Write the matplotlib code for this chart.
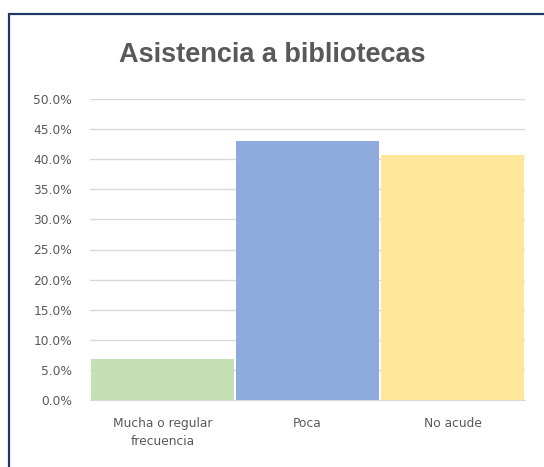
import matplotlib
matplotlib.use("Agg")
import matplotlib.pyplot as plt
from matplotlib.patches import Rectangle
from matplotlib.ticker import FuncFormatter, MultipleLocator

categories = ["Mucha o regular\nfrecuencia", "Poca", "No acude"]
values = [6.8, 43.1, 40.7]
colors = ["#c5e0b4", "#8faadc", "#ffe699"]
title = "Asistencia a bibliotecas"

W, H, DPI = 544, 467, 100
fig = plt.figure(figsize=(W / DPI, H / DPI), dpi=DPI)
fig.patch.set_facecolor("white")

# outer border
fig.patches.append(Rectangle((9 / W, -0.01), 1.05, 1 - 14 / H + 0.01,
                             transform=fig.transFigure, fill=False,
                             edgecolor="#1f3864", linewidth=1.6))

ax = fig.add_axes([90 / W, 1 - 400 / H, (525 - 90) / W, (400 - 99) / H])
x = range(len(categories))
ax.bar(x, values, width=0.985, color=colors, zorder=3)
ax.set_xlim(-0.5, 2.5)
ax.set_ylim(0, 50)
ax.yaxis.set_major_locator(MultipleLocator(5))
ax.yaxis.set_major_formatter(FuncFormatter(lambda v, p: f"{v:.1f}%"))
ax.grid(axis="y", color="#d9d9d9", linewidth=1, zorder=0)
for s in ["top", "right", "left"]:
    ax.spines[s].set_visible(False)
ax.spines["bottom"].set_color("#d9d9d9")
ax.tick_params(axis="both", length=0, labelsize=8.8, labelcolor="#595959")
ax.tick_params(axis="y", pad=13)
ax.tick_params(axis="x", pad=12)
ax.set_xticks(list(x))
ax.set_xticklabels(categories, family="DejaVu Sans", linespacing=1.55)
for lab in ax.get_yticklabels():
    lab.set_family("DejaVu Sans")

fig.text(0.5, 1 - 55 / H, title, ha="center", va="center", fontsize=19.5,
         fontweight="bold", color="#595959", family="Liberation Sans")

fig.savefig("out.png", dpi=DPI)
